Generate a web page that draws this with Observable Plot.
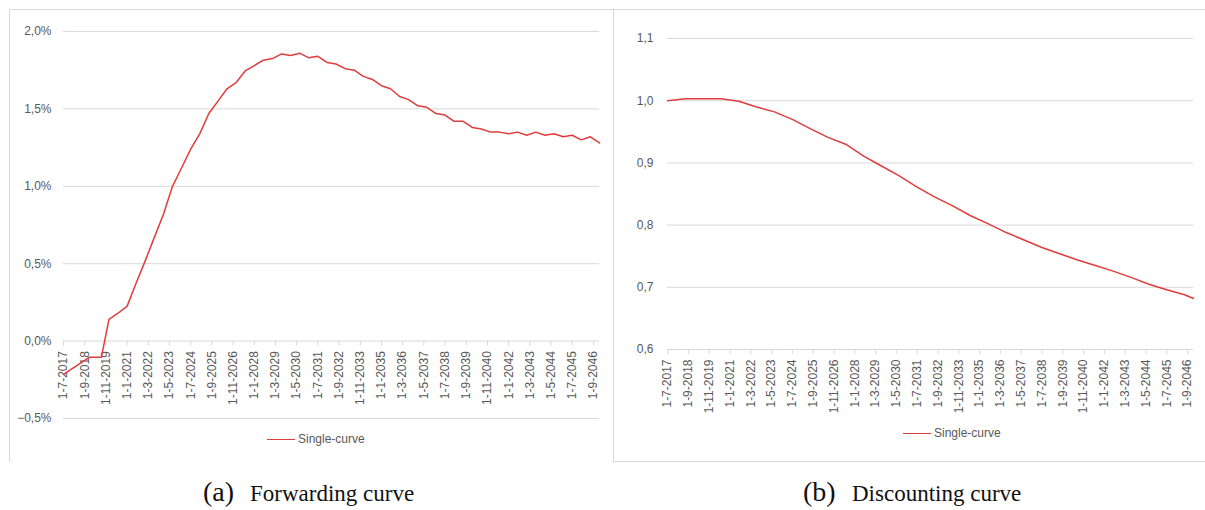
<!DOCTYPE html>
<html><head><meta charset="utf-8">
<script src="https://cdn.jsdelivr.net/npm/d3@7"></script>
<script src="https://cdn.jsdelivr.net/npm/@observablehq/plot@0.6"></script>
<style>
body{margin:0;background:#fff;}
#root{position:relative;width:1205px;height:510px;overflow:hidden;background:#fff;font-family:"Liberation Sans",Arial,sans-serif;}
#root svg{position:absolute;top:0;}
.hline{position:absolute;height:1px;background:#d9d9d9;}
.vline{position:absolute;width:1px;background:#d9d9d9;}
.legend{position:absolute;display:flex;align-items:center;height:16px;font-size:12px;color:#595959;white-space:nowrap;}
.legend .sw{width:28px;height:0;border-top:1.5px solid #e03c3c;margin-right:3px;}
.cap{position:absolute;font-family:"Liberation Serif","Times New Roman",serif;font-size:23px;line-height:26px;color:#111;white-space:nowrap;}
.cap .lab{display:inline-block;font-size:28px;}
</style></head><body><div id="root"></div>
<script>
// ---- data ----
const seriesName = "Single-curve";
const captionLabels = ["(a)", "(b)"];
const captionTexts = ["Forwarding curve", "Discounting curve"];
const tickLabels = ["1-7-2017","1-9-2018","1-11-2019","1-1-2021","1-3-2022","1-5-2023","1-7-2024","1-9-2025","1-11-2026","1-1-2028","1-3-2029","1-5-2030","1-7-2031","1-9-2032","1-11-2033","1-1-2035","1-3-2036","1-5-2037","1-7-2038","1-9-2039","1-11-2040","1-1-2042","1-3-2043","1-5-2044","1-7-2045","1-9-2046"];
const fwdYTicks = [-0.5, 0, 0.5, 1.0, 1.5, 2.0];
const discYTicks = [0.6, 0.7, 0.8, 0.9, 1.0, 1.1];
const fwdDates = ["2017-07","2018-12","2019-08","2020-01","2020-07","2021-01","2021-07","2022-01","2022-07","2023-01","2023-07","2024-01","2024-07","2025-01","2025-07","2026-01","2026-07","2027-01","2027-07","2028-01","2028-07","2029-01","2029-07","2030-01","2030-07","2031-01","2031-07","2032-01","2032-07","2033-01","2033-07","2034-01","2034-07","2035-01","2035-07","2036-01","2036-07","2037-01","2037-07","2038-01","2038-07","2039-01","2039-07","2040-01","2040-07","2041-01","2041-07","2042-01","2042-07","2043-01","2043-07","2044-01","2044-07","2045-01","2045-07","2046-01","2046-07","2047-01"];
const fwdValues = [-0.215,-0.105,-0.105,0.14,0.18,0.226,0.375,0.52,0.67,0.82,1.00,1.12,1.24,1.34,1.47,1.55,1.63,1.67,1.745,1.78,1.815,1.825,1.855,1.845,1.86,1.83,1.84,1.80,1.79,1.76,1.75,1.71,1.69,1.65,1.63,1.58,1.56,1.52,1.51,1.47,1.46,1.42,1.42,1.38,1.37,1.35,1.35,1.34,1.35,1.33,1.35,1.33,1.34,1.32,1.33,1.30,1.32,1.28];
const discDates = ["2017-07","2018-07","2019-07","2020-07","2021-07","2022-07","2023-07","2024-07","2025-07","2026-07","2027-07","2028-07","2029-07","2030-07","2031-07","2032-07","2033-07","2034-07","2035-07","2036-07","2037-07","2038-07","2039-07","2040-07","2041-07","2042-07","2043-07","2044-07","2045-07","2046-07","2047-01"];
const discValues = [1.000,1.003,1.003,1.003,0.999,0.990,0.982,0.970,0.955,0.941,0.930,0.911,0.895,0.879,0.861,0.845,0.831,0.815,0.802,0.788,0.776,0.764,0.754,0.744,0.735,0.726,0.716,0.705,0.696,0.688,0.682];

// ---- helpers ----
const lineColor = "#e03c3c", gridColor = "#d9d9d9", labelColor = "#595959";
const parseYM = s => new Date(s + "-01T00:00:00Z");
const parseDMY = s => { const [d, m, y] = s.split("-").map(Number); return new Date(Date.UTC(y, m - 1, d)); };
const ticks = tickLabels.map(parseDMY);
const fmtDMY = d => `${d.getUTCDate()}-${d.getUTCMonth() + 1}-${d.getUTCFullYear()}`;
const fmtPct = d => d3.format(".1f")(d).replace(".", ",") + "%";
const fmtDec = d => d3.format(".1f")(d).replace(".", ",");
const fwd = fwdDates.map((d, i) => ({date: parseYM(d), value: fwdValues[i]}));
const disc = discDates.map((d, i) => ({date: parseYM(d), value: discValues[i]}));
const font = "'Liberation Sans', Arial, sans-serif";

function chart({data, yTicks, yDomain, yBase, fmt, width, height, margins, pad}) {
  const svg = Plot.plot({
    width, height,
    marginLeft: margins[0], marginRight: margins[1], marginTop: margins[2], marginBottom: margins[3],
    style: {fontFamily: font, fontSize: "12px", background: "transparent", overflow: "visible", color: labelColor},
    x: {type: "utc", domain: [data[0].date, data[data.length - 1].date], axis: null},
    y: {domain: yDomain, axis: null},
    marks: [
      Plot.ruleY(yTicks, {stroke: gridColor, strokeWidth: 1}),
      Plot.axisY(yTicks, {tickSize: 0, tickPadding: pad, tickFormat: fmt, fill: labelColor, fontSize: 12, label: null}),
      Plot.ruleX(ticks, {x: d => d, y1: () => yBase, y2: () => yBase, insetBottom: -5, stroke: gridColor}),
      Plot.text(ticks, {x: d => d, y: () => yBase, text: fmtDMY, rotate: -90, textAnchor: "end", lineAnchor: "middle", dy: 10, fill: labelColor, fontSize: 12, ariaLabel: "xlabels"}),
      Plot.line(data, {x: "date", y: "value", stroke: lineColor, strokeWidth: 1.5})
    ]
  });
  const g = svg.querySelector('g[aria-label="xlabels"]');
  if (g) g.style.letterSpacing = "0.9px";
  return svg;
}

const root = document.getElementById("root");
const left = chart({data: fwd, yTicks: fwdYTicks, yDomain: [-0.5, 2.0], yBase: 0, fmt: fmtPct,
  width: 605, height: 462, margins: [63, 6, 31, 44], pad: 12});
left.style.left = "0px";
root.appendChild(left);
const right = chart({data: disc, yTicks: discYTicks, yDomain: [0.6, 1.1], yBase: 0.6, fmt: fmtDec,
  width: 592, height: 462, margins: [54, 12, 38, 113], pad: 14});
right.style.left = "613px";
root.appendChild(right);

function addDiv(cls, css, html) {
  const d = document.createElement("div");
  d.className = cls; d.style.cssText = css; if (html) d.innerHTML = html; root.appendChild(d); return d;
}
// panel frames
addDiv("hline", "left:9px;top:9px;width:1196px;");
addDiv("vline", "left:9px;top:9px;height:453px;");
addDiv("vline", "left:613px;top:9px;height:453px;");
addDiv("hline", "left:613px;top:461px;width:592px;");
// legends
addDiv("legend", "left:267px;top:431px;", `<span class="sw"></span><span>${seriesName}</span>`);
addDiv("legend", "left:903px;top:425px;", `<span class="sw"></span><span>${seriesName}</span>`);
// captions
addDiv("cap", "left:203px;top:479px;", `<span class="lab" style="width:47px">${captionLabels[0]}</span>${captionTexts[0]}`);
addDiv("cap", "left:803px;top:479px;", `<span class="lab" style="width:49px">${captionLabels[1]}</span>${captionTexts[1]}`);
</script></body></html>
